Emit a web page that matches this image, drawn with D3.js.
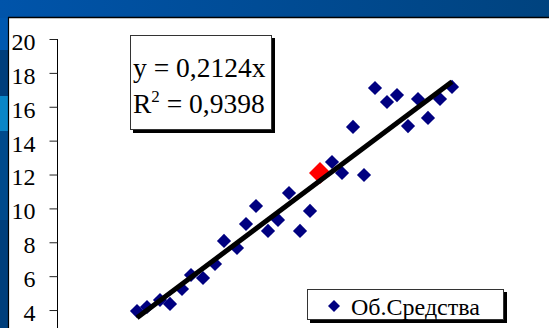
<!DOCTYPE html>
<html><head><meta charset="utf-8">
<script src="https://cdn.jsdelivr.net/npm/d3@7"></script>
<style>
html,body{margin:0;padding:0;background:#fff;overflow:hidden}
svg{display:block}
text{font-family:"Liberation Serif","Times New Roman",serif;fill:#000}
</style></head>
<body>
<script>
// ---- data ----
const xValues = [16.67,18.75,21.46,23.54,26.04,27.92,30.42,32.92,34.79,37.5,39.38,41.46,43.96,46.04,48.33,50.63,52.71,57.29,59.38,61.67,63.96,66.25,68.75,70.83,73.13,75.21,77.29,79.79,82.29];
const yValues = [3.94,4.18,4.59,4.36,5.24,6.07,5.89,6.72,8.08,7.66,9.08,10.14,8.67,9.32,10.91,8.67,9.85,12.74,12.09,14.81,11.97,17.11,16.28,16.69,14.86,16.46,15.34,16.46,17.17];
const highlightX = [54.79];
const highlightY = [12.09];
const yTicks = [4,6,8,10,12,14,16,18,20];
const trendSlope = 0.2124;
const equationLabel = "y = 0,2124x";
const r2Label = "0,9398";
const seriesName = "Об.Средства";

const W = 549, H = 328;
const svg = d3.select("body").append("svg").attr("width", W).attr("height", H);

// background frame
const defs = svg.append("defs");
const g1 = defs.append("linearGradient").attr("id","topg").attr("x1","0").attr("x2","1");
g1.append("stop").attr("offset","0").attr("stop-color","#0054aa");
g1.append("stop").attr("offset","1").attr("stop-color","#00437f");
svg.append("rect").attr("x",0).attr("y",0).attr("width",W).attr("height",H).attr("fill","#004486");
svg.append("rect").attr("x",0).attr("y",0).attr("width",W).attr("height",18).attr("fill","url(#topg)");
[[18,50,"#0058b0"],[50,96,"#003e7c"],[96,131,"#0a86c8"],[131,220,"#004a8c"],[220,328,"#003f7c"]].forEach(b=>{
  svg.append("rect").attr("x",0).attr("y",b[0]).attr("width",8).attr("height",b[1]-b[0]).attr("fill",b[2]);
});
svg.append("rect").attr("x",8).attr("y",18).attr("width",W-8).attr("height",H-18).attr("fill","#fff");
svg.append("line").attr("x1",8).attr("x2",W).attr("y1",17.5).attr("y2",17.5).attr("stroke","#000").attr("stroke-width",1.5);
svg.append("line").attr("x1",8.5).attr("x2",8.5).attr("y1",17).attr("y2",H).attr("stroke","#000").attr("stroke-width",1.2);

// scales
const x = d3.scaleLinear().domain([0, 100]).range([57, 57 + 100*4.8]);
const y = d3.scaleLinear().domain([0, 20]).range([377.8, 39]);

// y axis
const yAxis = d3.axisLeft(y).tickValues(yTicks).tickSize(8).tickPadding(14).tickFormat(d3.format("d"));
const ga = svg.append("g").attr("transform","translate(57.5,0)").call(yAxis);
ga.select(".domain").attr("stroke","#000").attr("d","M0,39V"+H);
ga.selectAll(".tick line").attr("stroke","#222");
ga.selectAll(".tick text").attr("font-size",24).attr("fill","#000").attr("dy","0.35em").attr("y",2);

// markers
const pts = xValues.map((v,i)=>({x:v,y:yValues[i]}));
const hp = highlightX.map((v,i)=>({x:v,y:highlightY[i]}));
const sq = d3.symbol().type(d3.symbolSquare);
svg.append("g").selectAll("path").data(hp).join("path")
  .attr("d", sq.size(242)()).attr("fill","#ff0000")
  .attr("transform", d=>`translate(${x(d.x)},${y(d.y)}) rotate(45)`);
svg.append("g").selectAll("path").data(pts).join("path")
  .attr("d", sq.size(100)()).attr("fill","#000080")
  .attr("transform", d=>`translate(${x(d.x)},${y(d.y)}) rotate(45)`);

// trendline
const xmin = d3.min(xValues), xmax = d3.max(xValues);
svg.append("path").datum([xmin,xmax])
  .attr("d", d3.line().x(d=>x(d)).y(d=>y(trendSlope*d)))
  .attr("stroke","#000").attr("stroke-width",5).attr("fill","none");

// equation box
const eq = svg.append("g");
eq.append("rect").attr("x",133).attr("y",38).attr("width",142).attr("height",95).attr("fill","#000");
eq.append("rect").attr("x",130.5).attr("y",35.5).attr("width",141).attr("height",94).attr("fill","#fff").attr("stroke","#333").attr("stroke-width",1);
eq.append("text").attr("x",133).attr("y",77).attr("font-size",27.5).text(equationLabel);
const t2 = eq.append("text").attr("x",133).attr("y",113).attr("font-size",27.5);
t2.append("tspan").text("R");
t2.append("tspan").attr("font-size",17).attr("dy",-11).text("2");
t2.append("tspan").attr("dy",11).text(" = " + r2Label);

// legend
const lg = svg.append("g");
lg.append("rect").attr("x",310).attr("y",292).attr("width",197).attr("height",31).attr("fill","#000");
lg.append("rect").attr("x",307.5).attr("y",289.5).attr("width",196).attr("height",30).attr("fill","#fff").attr("stroke","#333").attr("stroke-width",1);
lg.append("path").attr("d", sq.size(72)()).attr("fill","#000080").attr("transform","translate(334,306) rotate(45)");
lg.append("text").attr("x",351).attr("y",315).attr("font-size",24).text(seriesName);
</script>
</body></html>
